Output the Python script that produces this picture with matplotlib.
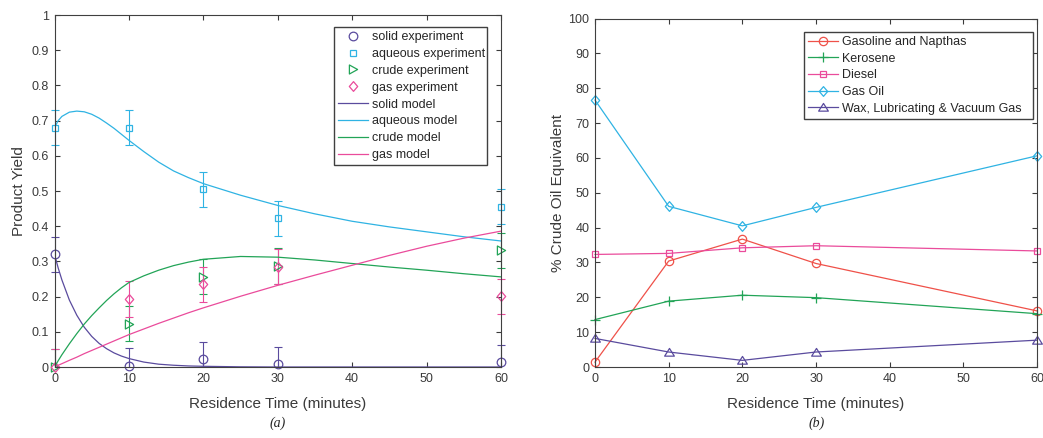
import matplotlib.pyplot as plt
from matplotlib.path import Path
from matplotlib.patches import Rectangle

plt.rcParams['font.family'] = ['Liberation Sans', 'DejaVu Sans']
plt.rcParams['axes.linewidth'] = 0.8

# sampling times (minutes)
t_exp = [0, 10, 20, 30, 60]

# (a) measured product yields, each +/- 0.05
solid_exp = [0.32, 0.003, 0.022, 0.008, 0.013]
aqueous_exp = [0.68, 0.68, 0.505, 0.422, 0.455]
crude_exp = [0.0, 0.123, 0.256, 0.287, 0.332]
gas_exp = [0.0, 0.193, 0.235, 0.285, 0.201]
yield_err = [0.05, 0.05, 0.05, 0.05, 0.05]

# (a) kinetic model curves
t_model = [0, 0.5, 1, 2, 3, 4, 5, 6, 7, 8, 9, 10, 12, 14, 16, 18, 20,
           25, 30, 35, 40, 45, 50, 55, 60]
solid_model = [0.32, 0.281, 0.247, 0.19, 0.147, 0.113, 0.087, 0.067, 0.052,
               0.040, 0.031, 0.024, 0.014, 0.008, 0.005, 0.003, 0.002,
               0.0005, 0, 0, 0, 0, 0, 0, 0]
aqueous_model = [0.68, 0.700, 0.712, 0.724, 0.727, 0.725, 0.718, 0.707, 0.693,
                 0.678, 0.661, 0.644, 0.612, 0.582, 0.557, 0.538, 0.521,
                 0.488, 0.459, 0.435, 0.414, 0.398, 0.384, 0.370, 0.358]
crude_model = [0.0, 0.018, 0.035, 0.066, 0.095, 0.122, 0.146, 0.168, 0.189,
               0.208, 0.225, 0.240, 0.259, 0.275, 0.288, 0.298, 0.306,
               0.314, 0.312, 0.304, 0.294, 0.284, 0.275, 0.265, 0.256]
gas_model = [0.0, 0.005, 0.0095, 0.019, 0.028, 0.038, 0.047, 0.056, 0.065,
             0.074, 0.083, 0.092, 0.108, 0.124, 0.139, 0.154, 0.168,
             0.201, 0.232, 0.261, 0.289, 0.317, 0.343, 0.366, 0.386]

# (b) distillation cuts, % crude oil equivalent
gasoline = [1.4, 30.4, 36.7, 29.7, 16.1]
kerosene = [13.6, 18.9, 20.6, 19.9, 15.3]
diesel = [32.3, 32.6, 34.2, 34.8, 33.3]
gas_oil = [76.6, 46.1, 40.5, 45.8, 60.6]
wax = [8.2, 4.3, 1.9, 4.3, 7.7]

PURPLE = '#5a4b9e'
BLUE = '#2fb3e3'
GREEN = '#22a457'
PINK = '#ea4b9b'
RED = '#ef5149'
TXT = '#3a3a3a'

# MATLAB-like marker shapes
diamond = Path([(0, 1), (0.86, 0), (0, -1), (-0.86, 0), (0, 1)],
               [Path.MOVETO, Path.LINETO, Path.LINETO, Path.LINETO, Path.CLOSEPOLY])
tri_right = Path([(1, 0), (-1, 1.1), (-1, -1.1), (1, 0)],
                 [Path.MOVETO, Path.LINETO, Path.LINETO, Path.CLOSEPOLY])
tri_up = Path([(0, 1), (-1.2, -0.9), (1.2, -0.9), (0, 1)],
              [Path.MOVETO, Path.LINETO, Path.LINETO, Path.CLOSEPOLY])


def style_axes(ax):
    ax.tick_params(direction='in', length=3.5, width=0.8, top=True, right=True,
                   labelsize=9, colors=TXT, pad=4)
    for s in ax.spines.values():
        s.set_color('#404040')


def draw_errors(ax, x, y, err, color):
    _, caps, bars = ax.errorbar(x, y, yerr=err, fmt='none', ecolor=color,
                                elinewidth=0.8, capsize=3, capthick=0.8)
    # let caps at the edge columns spill a little past the side spines
    clip = Rectangle((-0.03, 0), 1.06, 1, transform=ax.transAxes)
    for a in list(caps) + list(bars):
        a.set_clip_path(clip)


def boxed_legend(ax, left, top, width, spacing):
    # MATLAB-style legend box: fixed width, entries packed to the left
    return ax.legend(loc='upper left',
                     bbox_to_anchor=(left / 1043, 1 - top / 438 - 0.3,
                                     width / 1043, 0.3),
                     bbox_transform=fig.transFigure, mode='expand',
                     borderaxespad=0, fontsize=9, handlelength=2.4,
                     handletextpad=0.35, labelspacing=spacing, borderpad=0.32,
                     numpoints=1, fancybox=False, framealpha=1,
                     edgecolor='#404040', labelcolor='#262626')


fig = plt.figure(figsize=(10.43, 4.38), dpi=100)
ax1 = fig.add_axes([54.5 / 1043, 71 / 438, 446.5 / 1043, 352 / 438])
ax2 = fig.add_axes([595 / 1043, 71 / 438, 442 / 1043, 348.5 / 438])

# ---- (a) product yields ----
exp_sets = [
    (solid_exp, PURPLE, 'o', 6.2, 'solid experiment'),
    (aqueous_exp, BLUE, 's', 5.0, 'aqueous experiment'),
    (crude_exp, GREEN, tri_right, 6.5, 'crude experiment'),
    (gas_exp, PINK, diamond, 7.0, 'gas experiment'),
]
for y, c, m, ms, lab in exp_sets:
    draw_errors(ax1, t_exp, y, yield_err, c)
for y, c, m, ms, lab in exp_sets:
    ax1.plot(t_exp, y, ls='none', marker=m, ms=ms, mfc='none', mec=c,
             mew=0.9, clip_on=False, label=lab)

ax1.plot(t_model, solid_model, color=PURPLE, lw=0.9, label='solid model')
ax1.plot(t_model, aqueous_model, color=BLUE, lw=0.9, label='aqueous model')
ax1.plot(t_model, crude_model, color=GREEN, lw=0.9, label='crude model')
ax1.plot(t_model, gas_model, color=PINK, lw=0.9, label='gas model')

ax1.set_xlim(0, 60)
ax1.set_ylim(0, 1)
ax1.set_xticks([0, 10, 20, 30, 40, 50, 60])
ax1.set_yticks([0, 0.1, 0.2, 0.3, 0.4, 0.5, 0.6, 0.7, 0.8, 0.9, 1])
ax1.set_yticklabels(['0', '0.1', '0.2', '0.3', '0.4', '0.5', '0.6', '0.7',
                     '0.8', '0.9', '1'])
style_axes(ax1)
ax1.set_xlabel('Residence Time (minutes)', fontsize=11, color=TXT)
ax1.set_ylabel('Product Yield', fontsize=11, color=TXT)
ax1.xaxis.set_label_coords(0.5, -0.085)
ax1.yaxis.set_label_coords(-0.064, 0.5)
boxed_legend(ax1, 334, 27, 153, 0.39)

# ---- (b) distillation cuts ----
cuts = [
    (gasoline, RED, 'o', 6.0, 'Gasoline and Napthas'),
    (kerosene, GREEN, '+', 6.5, 'Kerosene'),
    (diesel, PINK, 's', 4.8, 'Diesel'),
    (gas_oil, BLUE, diamond, 7.0, 'Gas Oil'),
    (wax, PURPLE, tri_up, 7.0, 'Wax, Lubricating & Vacuum Gas'),
]
for y, c, m, ms, lab in cuts:
    ax2.plot(t_exp, y, color=c, lw=0.9, marker=m, ms=ms, mfc='none', mec=c,
             mew=0.9, clip_on=False, label=lab)

ax2.set_xlim(0, 60)
ax2.set_ylim(0, 100)
ax2.set_xticks([0, 10, 20, 30, 40, 50, 60])
ax2.set_yticks(range(0, 101, 10))
style_axes(ax2)
ax2.set_xlabel('Residence Time (minutes)', fontsize=11, color=TXT)
ax2.set_ylabel('% Crude Oil Equivalent', fontsize=11, color=TXT)
ax2.xaxis.set_label_coords(0.5, -0.085)
ax2.yaxis.set_label_coords(-0.067, 0.5)
boxed_legend(ax2, 804, 32, 229, 0.376)

fig.text(278 / 1043, 1 - 423 / 438, '(a)', family='Liberation Serif',
         style='italic', fontsize=10, color='#262626', ha='center', va='center')
fig.text(817 / 1043, 1 - 423 / 438, '(b)', family='Liberation Serif',
         style='italic', fontsize=10, color='#262626', ha='center', va='center')

fig.savefig('out.png', dpi=100)
